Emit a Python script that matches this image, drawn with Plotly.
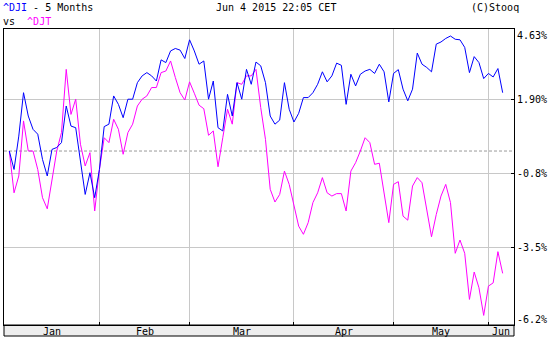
import pandas as pd
import plotly.graph_objects as go

# Trading days Jan 5 2015 .. Jun 4 2015 (NYSE holidays excluded)
holidays = ["2015-01-19", "2015-02-16", "2015-04-03", "2015-05-25"]
dates = [d for d in pd.bdate_range("2015-01-05", "2015-06-04") if d.strftime("%Y-%m-%d") not in holidays]

# % change since first session
dji = [0.00, -0.68, 0.55, 2.15, 1.29, 0.80, 0.62, -0.31, -0.92, 0.06, 0.13, 0.31, 1.66, 0.92, 0.86,
       -0.43, -1.60, -0.80, -1.72, -0.68, 0.90, 0.99, 2.03, 1.72, 1.23, 1.91, 1.91, 2.52, 2.77, 2.89,
       2.77, 2.58, 3.36, 3.26, 3.69, 3.78, 3.72, 3.41, 4.10, 3.69, 3.20, 3.32, 1.91, 2.58, 0.86,
       0.74, 2.09, 1.29, 2.52, 1.91, 3.01, 2.46, 3.28, 3.14, 2.52, 1.29, 0.99, 1.14, 2.52, 1.54,
       1.07, 1.39, 1.97, 1.97, 2.15, 2.46, 2.92, 2.55, 2.77, 3.24, 3.16, 1.72, 2.83, 2.40, 2.83,
       2.95, 3.01, 2.86, 3.20, 2.92, 1.81, 2.86, 3.00, 2.28, 1.85, 2.28, 3.61, 3.20, 3.08, 2.92,
       3.94, 4.02, 4.15, 4.24, 4.12, 4.10, 3.82, 2.89, 3.48, 3.26, 2.67, 2.86, 2.73, 3.04, 2.15]
djt = [0.00, -1.54, -0.92, 1.11, 0.00, 0.00, -0.68, -1.72, -2.13, -1.04, 0.00, 0.68, 3.01, 1.35, 1.91,
       0.25, -0.55, -0.06, -2.21, -0.68, 0.49, 0.31, 1.17, 0.80, -0.12, 0.68, 0.99, 1.66, 1.91, 2.03,
       2.34, 2.34, 2.89, 2.95, 3.32, 2.71, 2.15, 1.88, 2.55, 2.13, 1.69, 1.56, 0.58, 0.74, -0.58,
       0.49, 1.54, 0.99, 2.52, 2.46, 2.77, 2.77, 3.01, 1.60, 0.43, -1.41, -1.88, -1.60, -0.74, -1.23,
       -2.03, -2.77, -3.07, -2.64, -1.90, -1.54, -0.98, -1.54, -1.66, -1.57, -1.57, -2.21, -0.74, -0.43, 0.00,
       0.49, 0.31, -0.49, -0.45, -1.54, -2.64, -1.23, -1.13, -2.40, -2.55, -1.29, -0.98, -1.17, -2.15, -3.16,
       -2.34, -1.66, -1.23, -1.90, -3.77, -3.28, -3.77, -5.47, -4.46, -5.04, -6.06, -4.98, -4.86, -3.71, -4.51]

y_tick_vals = [1.90, -0.83, -3.56]
y_tick_text = ["1.90%", "-0.8%", "-3.5%"]
y_top_label = "4.63%"
y_bottom_label = "-6.2%"

FONT = "DejaVu Sans Mono"
BLUE = "#0000ff"
MAGENTA = "#ff00ff"

idx = list(range(len(dates)))
date_txt = [d.strftime("%Y-%m-%d") for d in dates]

xmin, xmax = -1.117, 106.39

# month boundaries (first session of each month) and label centres
starts = [i for i in idx if i > 0 and dates[i].month != dates[i - 1].month]
edges = [xmin] + starts + [xmax]
centres = [(edges[k] + edges[k + 1]) / 2 for k in range(len(edges) - 1)]
month_names = [dates[0].strftime("%b")] + [dates[i].strftime("%b") for i in starts]

fig = go.Figure()
fig.add_trace(go.Scatter(x=idx, y=djt, mode="lines", line=dict(color=MAGENTA, width=1),
                         name="^DJT", customdata=date_txt, hovertemplate="%{customdata}: %{y:.2f}%"))
fig.add_trace(go.Scatter(x=idx, y=dji, mode="lines", line=dict(color=BLUE, width=1),
                         name="^DJI", customdata=date_txt, hovertemplate="%{customdata}: %{y:.2f}%"))

fig.update_layout(
    width=552, height=340,
    margin=dict(l=4, r=38, t=29, b=15, pad=0),
    paper_bgcolor="white", plot_bgcolor="white",
    showlegend=False,
    font=dict(family=FONT, size=10, color="black"),
    xaxis=dict(
        range=[xmin, xmax], automargin=False, showline=True, linecolor="black", linewidth=1, mirror=True,
        tickmode="array", tickvals=centres, ticktext=month_names, ticks="", showgrid=False,
        showticklabels=False, zeroline=False,
        minor=dict(tickmode="array", tickvals=starts, showgrid=True, gridcolor="#c8c8c8", gridwidth=1,
                   ticks="inside", ticklen=3, tickcolor="black", tickwidth=1),
    ),
    yaxis=dict(
        side="right", range=[-6.413, 4.498], automargin=False, showline=True, linecolor="black",
        linewidth=1, mirror=True,
        tickmode="array", tickvals=y_tick_vals, ticktext=y_tick_text, ticks="inside", ticklen=3,
        tickcolor="black", showgrid=True, gridcolor="#c8c8c8", gridwidth=1, zeroline=False,
        tickfont=dict(family=FONT, size=10, color="black"),
    ),
)

# bottom month band
fig.add_shape(type="rect", xref="paper", yref="paper", x0=0, x1=1, y0=-11 / 296, y1=0,
              fillcolor="#eeeeee", line=dict(color="black", width=1), layer="below")
# baseline (0 %) dashed line
fig.add_shape(type="line", xref="paper", yref="y", x0=0, x1=1, y0=dji[0], y1=dji[0],
              line=dict(color="#999999", width=1, dash="3px,2px"), layer="below")

ann_font = dict(family=FONT, size=10, color="black")
for c, m in zip(centres, month_names):
    fig.add_annotation(xref="x", yref="paper", x=c, y=0, xanchor="center", yanchor="middle",
                       yshift=-6, text=m, showarrow=False, font=ann_font)

fig.add_annotation(xref="paper", yref="paper", x=1, y=1, xanchor="left", yanchor="middle",
                   xshift=1, yshift=-6.5, text=y_top_label, showarrow=False, font=ann_font)
fig.add_annotation(xref="paper", yref="paper", x=1, y=0, xanchor="left", yanchor="middle",
                   xshift=1, yshift=6, text=y_bottom_label, showarrow=False, font=ann_font)

fig.add_annotation(xref="paper", yref="paper", x=0, y=1, xanchor="left", yanchor="middle",
                   xshift=-3, yshift=21.5, showarrow=False, font=ann_font,
                   text=f"<span style='color:{BLUE}'>^DJI</span> - 5 Months")
fig.add_annotation(xref="paper", yref="paper", x=0, y=1, xanchor="left", yanchor="middle",
                   xshift=-3, yshift=8, showarrow=False, font=ann_font,
                   text=f"vs\u00a0\u00a0<span style='color:{MAGENTA}'>^DJT</span>")
fig.add_annotation(xref="paper", yref="paper", x=(276 - 4) / 510, y=1, xanchor="center", yanchor="middle",
                   yshift=21.5, showarrow=False, font=ann_font, text="Jun 4 2015 22:05 CET")
fig.add_annotation(xref="paper", yref="paper", x=1, y=1, xanchor="right", yanchor="middle",
                   xshift=7, yshift=21.5, showarrow=False, font=ann_font, text="(C)Stooq")

fig.write_html("out.html", config={"displayModeBar": False},
               post_script="document.body.style.margin='0';document.body.style.padding='0';")
